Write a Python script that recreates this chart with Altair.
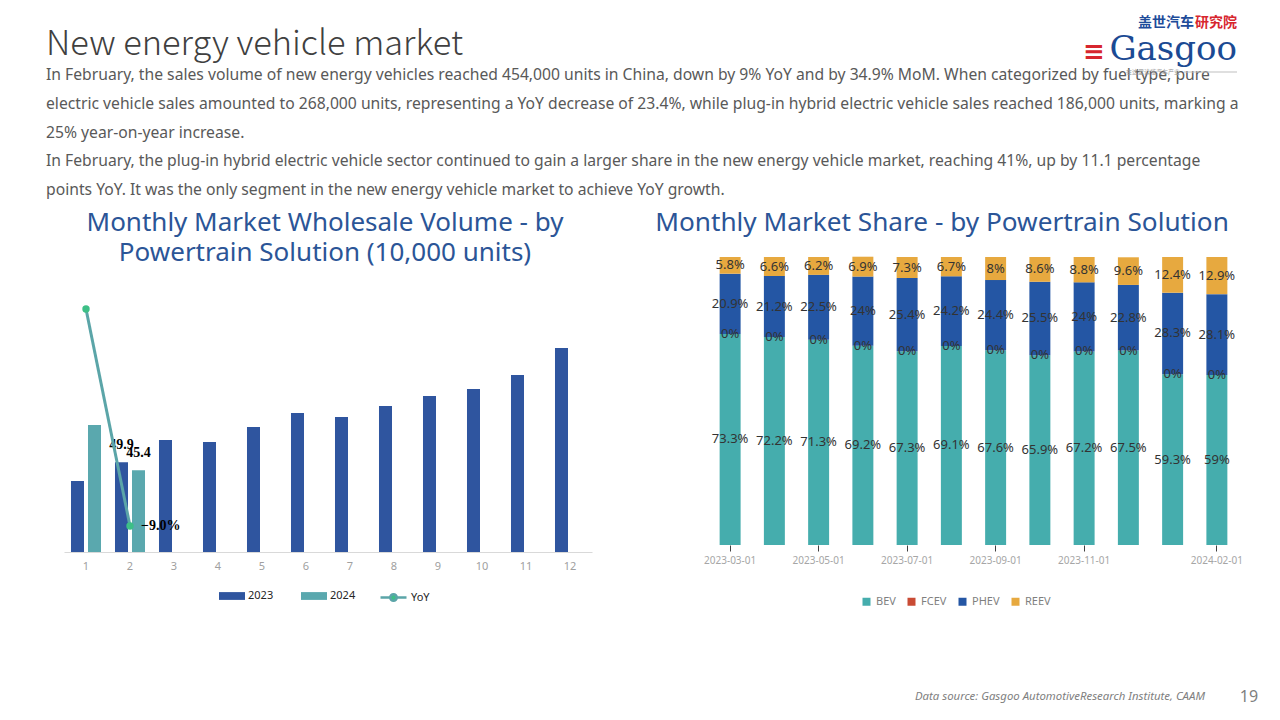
import altair as alt
import pandas as pd

# ---------------- data ----------------
months = list(range(1, 13))
sales_2023 = [39.4, 49.9, 62.2, 61.1, 69.4, 77.2, 75.0, 81.1, 86.7, 90.6, 98.3, 113.3]
sales_2024 = [70.6, 45.4]
yoy_months = [1, 2]
yoy_values = [78.8, -9.0]

share_months = ["2023-03-01", "2023-04-01", "2023-05-01", "2023-06-01", "2023-07-01", "2023-08-01",
                "2023-09-01", "2023-10-01", "2023-11-01", "2023-12-01", "2024-01-01", "2024-02-01"]
shown_months = ["2023-03-01", "2023-05-01", "2023-07-01", "2023-09-01", "2023-11-01", "2024-02-01"]
types = ["BEV", "FCEV", "PHEV", "REEV"]
bev = [73.3, 72.2, 71.3, 69.2, 67.3, 69.1, 67.6, 65.9, 67.2, 67.5, 59.3, 59.0]
fcev = [0, 0, 0, 0, 0, 0, 0, 0, 0, 0, 0, 0]
phev = [20.9, 21.2, 22.5, 24.0, 25.4, 24.2, 24.4, 25.5, 24.0, 22.8, 28.3, 28.1]
reev = [5.8, 6.6, 6.2, 6.9, 7.3, 6.7, 8.0, 8.6, 8.8, 9.6, 12.4, 12.9]

title_main = "New energy vehicle market"
paragraph = [
    "In February, the sales volume of new energy vehicles reached 454,000 units in China, down by 9% YoY and by 34.9% MoM. When categorized by fuel type, pure",
    "electric vehicle sales amounted to 268,000 units, representing a YoY decrease of 23.4%, while plug-in hybrid electric vehicle sales reached 186,000 units, marking a",
    "25% year-on-year increase.",
    "In February, the plug-in hybrid electric vehicle sector continued to gain a larger share in the new energy vehicle market, reaching 41%, up by 11.1 percentage",
    "points YoY.  It was the only segment in the new energy vehicle market to achieve YoY growth.",
]
left_title = ["Monthly Market Wholesale Volume - by", "Powertrain Solution (10,000 units)"]
right_title = "Monthly Market Share - by Powertrain Solution"
source_text = "Data source: Gasgoo AutomotiveResearch Institute, CAAM"
page_no = "19"

# ---------------- tables ----------------
rows = []
for m, v in zip(months, sales_2023):
    rows.append({"month": m, "year": "2023", "value": v})
for m, v in zip(months, sales_2024):
    rows.append({"month": m, "year": "2024", "value": v})
df_bars = pd.DataFrame(rows)
df_yoy = pd.DataFrame({"month": yoy_months, "yoy": yoy_values, "series": ["YoY"] * len(yoy_months)})

srows = []
for i, mo in enumerate(share_months):
    for k, (t, arr) in enumerate(zip(types, [bev, fcev, phev, reev])):
        srows.append({"month": mo, "type": t, "ord": k, "value": arr[i]})
df_share = pd.DataFrame(srows)

BLUE_TITLE = "#2B5597"
FONT = "Noto Sans CJK SC"

one = pd.DataFrame({"k": [0]})


def txt(text, x, y, **kw):
    return alt.Chart(one).mark_text(text=text, **kw).encode(x=alt.value(x), y=alt.value(y))


# ---------------- left chart (origin at page 64,257) ----------------
OX, OY = 64, 257
LW, LH = 528, 295
PX = 1.8  # pixels per 10k units

x_left = alt.X("month:O", title=None,
               scale=alt.Scale(paddingInner=0.318, paddingOuter=0.159),
               axis=alt.Axis(labelAngle=0, labelColor="#a0a0a0", labelFontSize=11, labelFont="Noto Sans",
                             ticks=False, domainColor="#d9d9d9", labelPadding=8, grid=False))
y_bar = alt.Y("value:Q", scale=alt.Scale(domain=[0, LH / PX], nice=False), axis=None)
y_yoy = alt.Y("yoy:Q", scale=alt.Scale(domain=[-19.5, 99.8], nice=False), axis=None)

canvas = alt.Chart(one).mark_rect(color="white", opacity=0).encode(
    x=alt.value(-OX), x2=alt.value(1280 - OX), y=alt.value(-OY), y2=alt.value(720 - OY))

bars = alt.Chart(df_bars).mark_bar().encode(
    x=x_left,
    xOffset=alt.XOffset("year:N", scale=alt.Scale(domain=["2023", "2024"], paddingInner=0.235, paddingOuter=0)),
    y=y_bar,
    color=alt.Color("year:N", scale=alt.Scale(domain=["2023", "2024"], range=["#2F559F", "#5AA8AE"]),
                    legend=alt.Legend(orient="none", legendX=155, legendY=326, direction="horizontal", title=None,
                                      symbolType="M-1,-0.3H1V0.3H-1Z", symbolSize=676, labelFontSize=11,
                                      labelFont="Noto Sans", labelColor="#262626", labelOffset=3,
                                      columnPadding=27, padding=0, symbolStrokeWidth=0)),
)

bar_labels = alt.Chart(df_bars).transform_filter("datum.month == 2").mark_text(
    font="Liberation Serif", fontWeight="bold", fontSize=14, color="#000000", dy=-17, baseline="middle"
).encode(
    x=alt.X("month:O"),
    xOffset=alt.XOffset("year:N", scale=alt.Scale(domain=["2023", "2024"], paddingInner=0.235, paddingOuter=0)),
    y=y_bar,
    text=alt.Text("value:Q", format=".1f"),
)

line = alt.Chart(df_yoy).mark_line(strokeWidth=3).encode(
    x=alt.X("month:O"),
    y=y_yoy,
    color=alt.Color("series:N", scale=alt.Scale(domain=["YoY"], range=["#5BA5A8"]),
                    legend=alt.Legend(orient="none", legendX=315, legendY=326, direction="horizontal", title=None,
                                      symbolType="M-1,0H-0.25M0.25,0H1M0.25,0A0.25,0.25,0,1,1,-0.25,0A0.25,0.25,0,1,1,0.25,0Z",
                                      symbolSize=676, symbolStrokeWidth=2.5, symbolFillColor="#3DBF86",
                                      labelFontSize=11, labelFont="Noto Sans", labelColor="#262626",
                                      labelOffset=3, padding=0)),
)
points = alt.Chart(df_yoy).mark_point(filled=True, size=55, color="#3DBF86", opacity=1).encode(
    x=alt.X("month:O"), y=y_yoy)
yoy_label = alt.Chart(df_yoy).transform_filter("datum.month == 2").transform_calculate(
    lbl="format(datum.yoy, '.1f') + '%'"
).mark_text(font="Liberation Serif", fontWeight="bold", fontSize=14, color="#000000", align="left",
            baseline="middle", dx=11).encode(x=alt.X("month:O"), y=y_yoy, text="lbl:N")

annotations = [
    txt(title_main, 46 - OX, 55 - OY, font=FONT, fontSize=34.4, fontWeight=300, color="#404040",
        align="left", baseline="alphabetic"),
    txt(paragraph, 46 - OX, 68 - OY, font="Noto Sans", fontSize=15.7, color="#595959", align="left",
        baseline="top", lineHeight=28.75),
    txt(left_title, 325 - OX, 210 - OY, font="Noto Sans", fontSize=26, color=BLUE_TITLE, align="center",
        baseline="top", lineHeight=30),
    txt(right_title, 942 - OX, 210 - OY, font="Noto Sans", fontSize=26.2, color=BLUE_TITLE, align="center",
        baseline="top"),
    txt("盖世汽车", 1138 - OX, 23 - OY, font=FONT, fontSize=14, fontWeight="bold", color="#1E4C9A",
        align="left", baseline="middle"),
    txt("研究院", 1195 - OX, 23 - OY, font=FONT, fontSize=14, fontWeight="bold", color="#D7262E",
        align="left", baseline="middle"),
    txt("≡", 1094 - OX, 52 - OY, font="DejaVu Sans", fontSize=26, fontWeight="bold", color="#D7262E",
        align="center", baseline="middle"),
    txt("Gasgoo", 1237 - OX, 60 - OY, font="DejaVu Serif", fontSize=34, color="#1B4A93",
        align="right", baseline="alphabetic"),
    alt.Chart(one).mark_rule(color="#bfbfbf", strokeWidth=1).encode(
        x=alt.value(1184 - OX), x2=alt.value(1237 - OX), y=alt.value(72 - OY)),
    txt("在这里读懂汽车产业", 1126 - OX, 72 - OY, font=FONT, fontSize=6, color="#9a9a9a",
        align="left", baseline="middle"),
    txt(source_text, 1205 - OX, 697 - OY, font="Noto Sans", fontSize=11.4, fontStyle="italic",
        color="#7f7f7f", align="right", baseline="middle"),
    txt(page_no, 1249 - OX, 697 - OY, font="Noto Sans", fontSize=16, color="#7f7f7f",
        align="center", baseline="middle"),
]

left = alt.layer(canvas, bars, bar_labels, line, points, yoy_label, *annotations).resolve_scale(
    y="independent", color="independent"
).properties(width=LW, height=LH)

# ---------------- right chart (origin at page 708,257) ----------------
RW, RH = 531, 288
in_list = "indexof(" + str(shown_months) + ", datum.value) >= 0"

x_right = alt.X("month:N", sort=share_months, title=None,
                scale=alt.Scale(paddingInner=0.526, paddingOuter=0.263),
                axis=alt.Axis(labelAngle=0, labelExpr=in_list + " ? datum.value : ''",
                              labelOverlap=False, labelColor="#a6a6a6", labelFontSize=10,
                              labelFont="Noto Sans", domain=False, tickColor="#404040", tickSize=6,
                              tickOpacity={"condition": {"test": in_list, "value": 1}, "value": 0},
                              labelPadding=4, grid=False))
y_share = alt.Scale(domain=[0, 100], nice=False)

# legend positions for orient "none" are measured from the left plot's origin
share_bars = alt.Chart(df_share).mark_bar().encode(
    x=x_right,
    y=alt.Y("value:Q", stack="zero", scale=y_share, axis=None),
    color=alt.Color("type:N", scale=alt.Scale(domain=types, range=["#45ADAD", "#C94B34", "#2456A4", "#E7A93F"]),
                    legend=alt.Legend(orient="none", legendX=861 - OX, legendY=339, direction="horizontal",
                                      title=None, symbolType="square", symbolSize=64, labelColor="#7f7f7f",
                                      labelFontSize=11, labelFont="Noto Sans", columnPadding=10,
                                      labelOffset=4, padding=0, symbolStrokeWidth=0)),
    order=alt.Order("ord:Q"),
)
share_labels = alt.Chart(df_share).transform_stack(
    stack="value", groupby=["month"], sort=[alt.SortField("ord", order="ascending")], as_=["v0", "v1"]
).transform_calculate(
    mid="(datum.v0 + datum.v1) / 2", lbl="datum.value + '%'"
).mark_text(font="Noto Sans", fontSize=13, color="#333333", baseline="middle").encode(
    x=alt.X("month:N", sort=share_months),
    y=alt.Y("mid:Q", scale=y_share, axis=None),
    text="lbl:N",
)

right = alt.layer(share_bars, share_labels).properties(width=RW, height=RH)

chart = alt.hconcat(left, right, spacing=708 - (OX + LW), bounds="flush").properties(
    padding=0, background="white"
).configure_view(stroke=None)

chart.save("out.html", embed_options={"renderer": "svg", "actions": False})
